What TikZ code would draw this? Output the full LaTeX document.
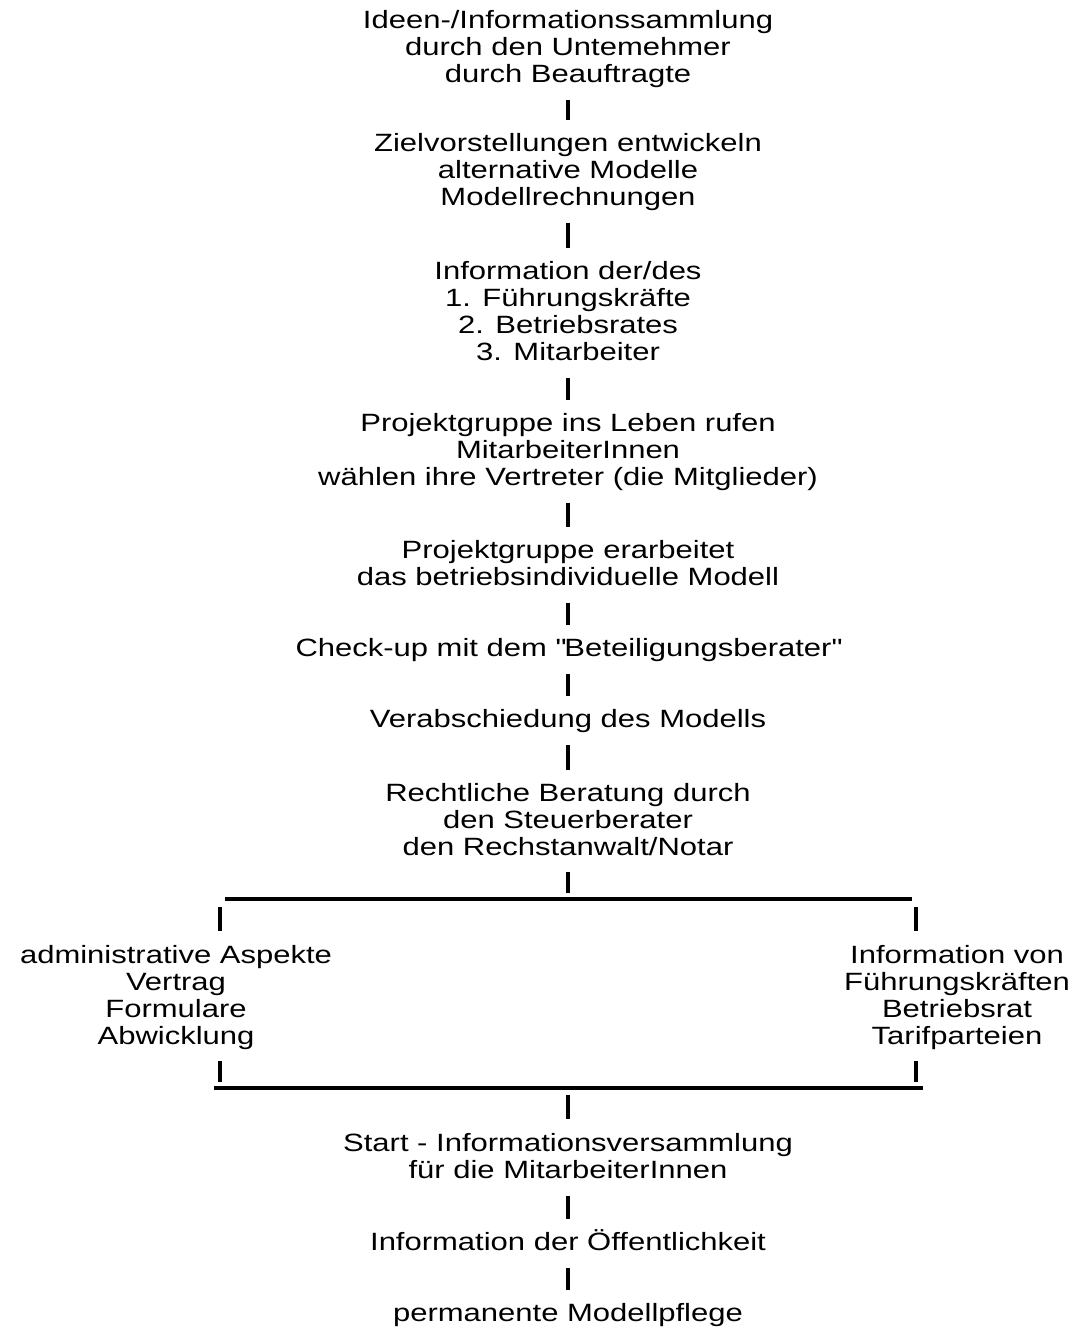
\documentclass[tikz,border=0pt]{standalone}
\usepackage{fontspec}
\setmainfont{Liberation Sans}[FakeStretch=1.24]
\newcommand\bstrut{\rule[-4pt]{0pt}{13pt}}
\begin{document}
\begin{tikzpicture}[x=0.5pt,y=-0.5pt,
    stage/.style={anchor=north,align=center,inner sep=0pt,
      font=\fontsize{12.5}{13.5}\selectfont,
      execute at begin node=\bstrut,execute at end node=\bstrut},
    bar/.style={line width=1.6pt,shorten <=4.5pt,shorten >=6.5pt},
    rail/.style={line width=2pt}]
    \useasboundingbox (0,0) rectangle (1075,1327);
    % main line
    \node[stage] (b1) at (568,10) {Ideen-/Informationssammlung\\durch den Untemehmer\\durch Beauftragte};
    \node[stage] (b2) at (568,133) {Zielvorstellungen entwickeln\\alternative Modelle\\Modellrechnungen};
    \node[stage] (b3) at (568,261) {Information der/des\\1. Führungskräfte\\2. Betriebsrates\\3. Mitarbeiter};
    \node[stage] (b4) at (568,413) {Projektgruppe ins Leben rufen\\MitarbeiterInnen\\wählen ihre Vertreter (die Mitglieder)};
    \node[stage] (b5) at (568,540) {Projektgruppe erarbeitet\\das betriebsindividuelle Modell};
    \node[stage] (b6) at (568,638) {Check-up mit dem \textquotedbl Beteiligungsberater\textquotedbl};
    \node[stage] (b7) at (568,709) {Verabschiedung des Modells};
    \node[stage] (b8) at (568,783) {Rechtliche Beratung durch\\den Steuerberater\\den Rechstanwalt/Notar};
    \node[stage] (left) at (176,945) {administrative Aspekte\\Vertrag\\Formulare\\Abwicklung};
    \node[stage] (right) at (957,945) {Information von\\Führungskräften\\Betriebsrat\\Tarifparteien};
    \node[stage] (b9) at (568,1133) {Start - Informationsversammlung\\für die MitarbeiterInnen};
    \node[stage,text height=9pt] (b10) at (568,1232) {Information der Öffentlichkeit};
    \node[stage] (b11) at (568,1303) {permanente Modellpflege};
    \foreach \a/\b in {b1/b2,b2/b3,b3/b4,b4/b5,b5/b6,b6/b7,b7/b8,b9/b10,b10/b11}
        \draw[bar] (\a) -- (\b);
    % split and join
    \coordinate (tl) at (225,899);
    \coordinate (tr) at (912,899);
    \coordinate (bl) at (214,1088);
    \coordinate (br) at (923,1088);
    \coordinate (lx) at (220,0);
    \coordinate (rx) at (916,0);
    \draw[rail] (tl) -- (tr);
    \draw[rail] (bl) -- (br);
    \draw[bar,shorten <=4pt,shorten >=3pt] (b8) -- (b8 |- tl);
    \draw[bar,shorten <=4pt,shorten >=7pt] (lx |- tl) -- (lx |- left.north);
    \draw[bar,shorten <=4pt,shorten >=7pt] (rx |- tr) -- (rx |- right.north);
    \draw[bar,shorten <=4pt,shorten >=3pt] (lx |- left.south) -- (lx |- bl);
    \draw[bar,shorten <=4pt,shorten >=3pt] (rx |- right.south) -- (rx |- br);
    \draw[bar,shorten <=3.5pt,shorten >=7pt] (b9 |- bl) -- (b9);
\end{tikzpicture}
\end{document}
